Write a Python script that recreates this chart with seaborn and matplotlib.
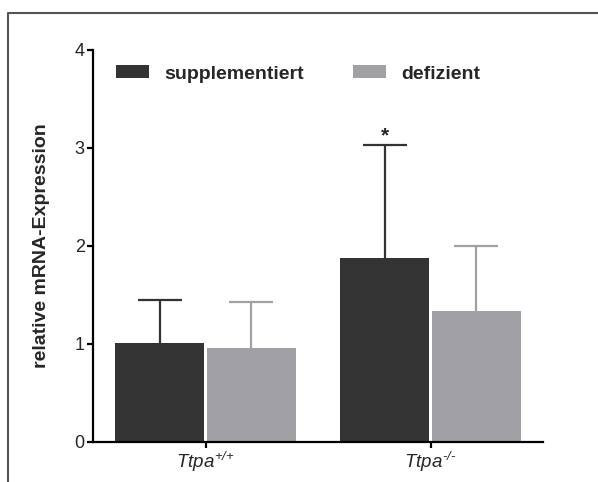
import matplotlib
matplotlib.use("Agg")
import matplotlib.pyplot as plt
import seaborn as sns
import pandas as pd
from matplotlib.lines import Line2D

# ---- data ----
genotypes = ["Ttpa+/+", "Ttpa-/-"]
tick_labels = [r"$Ttpa^{\text{+/+}}$", r"$Ttpa^{\text{-/-}}$"]
conditions = ["supplementiert", "defizient"]
mean_supp = [1.01, 1.88]
mean_def = [0.96, 1.34]
err_supp = [0.44, 1.15]
err_def = [0.47, 0.66]
y_ticks = [0, 1, 2, 3, 4]
y_label = "relative mRNA-Expression"
sig_marker = "*"

colors = {"supplementiert": "#333333", "defizient": "#a1a1a5"}

df = pd.DataFrame({
    "genotype": genotypes * 2,
    "condition": [conditions[0]] * 2 + [conditions[1]] * 2,
    "value": mean_supp + mean_def,
})

sns.set_style("white")
plt.rcParams["font.family"] = ["Liberation Sans", "DejaVu Sans"]
plt.rcParams["mathtext.fontset"] = "custom"
plt.rcParams["mathtext.it"] = "Liberation Sans:italic"
plt.rcParams["mathtext.rm"] = "Liberation Sans:italic"
plt.rcParams["mathtext.default"] = "it"

fig = plt.figure(figsize=(5.98, 4.82), dpi=100)
ax = fig.add_axes([93 / 598, 1 - 442 / 482, (543 - 93) / 598, (442 - 50) / 482])

sns.barplot(data=df, x="genotype", y="value", hue="condition",
            hue_order=conditions, order=genotypes, palette=colors,
            errorbar=None, width=0.8125, gap=0.03, linewidth=0,
            edgecolor="none", ax=ax, legend=True)

# error bars (upper only)
bars = sorted([p for p in ax.patches if p.get_height() > 0],
              key=lambda p: p.get_x())
errs = [err_supp[0], err_def[0], err_supp[1], err_def[1]]
conds = [conditions[0], conditions[1], conditions[0], conditions[1]]
for b, e, c in zip(bars, errs, conds):
    xc = b.get_x() + b.get_width() / 2
    h = b.get_height()
    _, caps, _ = ax.errorbar([xc], [h], yerr=[[0], [e]], fmt="none", ecolor=colors[c],
                             elinewidth=1.6, capsize=16, capthick=1.6, zorder=3)
    # hide the lower cap sitting on the bar top
    lows = [cl for cl in caps if cl.get_ydata()[0] <= h + 1e-9]
    for cl in lows:
        cl.set_visible(False)

# significance star above Ttpa-/- supplementiert
b = bars[2]
ax.annotate(sig_marker, (b.get_x() + b.get_width() / 2, b.get_height() + err_supp[1]),
            xytext=(0, 0), textcoords="offset points", ha="center", va="bottom",
            fontsize=15, fontweight="bold")

ax.set_xlim(-0.5, 1.5)
ax.set_ylim(0, 4)
ax.set_yticks(y_ticks)
ax.set_yticklabels([str(t) for t in y_ticks], fontsize=13)
ax.set_xticks([0, 1])
ax.set_xticklabels(tick_labels, fontsize=13.5)
ax.set_xlabel("")
ax.set_ylabel(y_label, fontsize=14, fontweight="bold", labelpad=18)

for s in ["top", "right"]:
    ax.spines[s].set_visible(False)
for s in ["left", "bottom"]:
    ax.spines[s].set_linewidth(1.6)
    ax.spines[s].set_color("black")
ax.tick_params(axis="both", direction="out", length=4, width=1.6, color="black",
               left=True, bottom=True, pad=2)

# legend
handles, labels = ax.get_legend_handles_labels()
ax.legend(handles, labels, loc="center left", bbox_to_anchor=(116 / 598, 1 - 74 / 482),
          bbox_transform=fig.transFigure, ncol=2, frameon=False,
          prop={"weight": "bold", "size": 14}, handlelength=1.7, handleheight=0.6,
          handletextpad=0.8, columnspacing=2.5, borderpad=0, borderaxespad=0)

# outer frame (top and left)
fig.add_artist(Line2D([8 / 598, 8 / 598, 1.0], [0.0, 1 - 13 / 482, 1 - 13 / 482],
                      transform=fig.transFigure, color="#555555", lw=1.5))

fig.savefig("out.png", dpi=100)
